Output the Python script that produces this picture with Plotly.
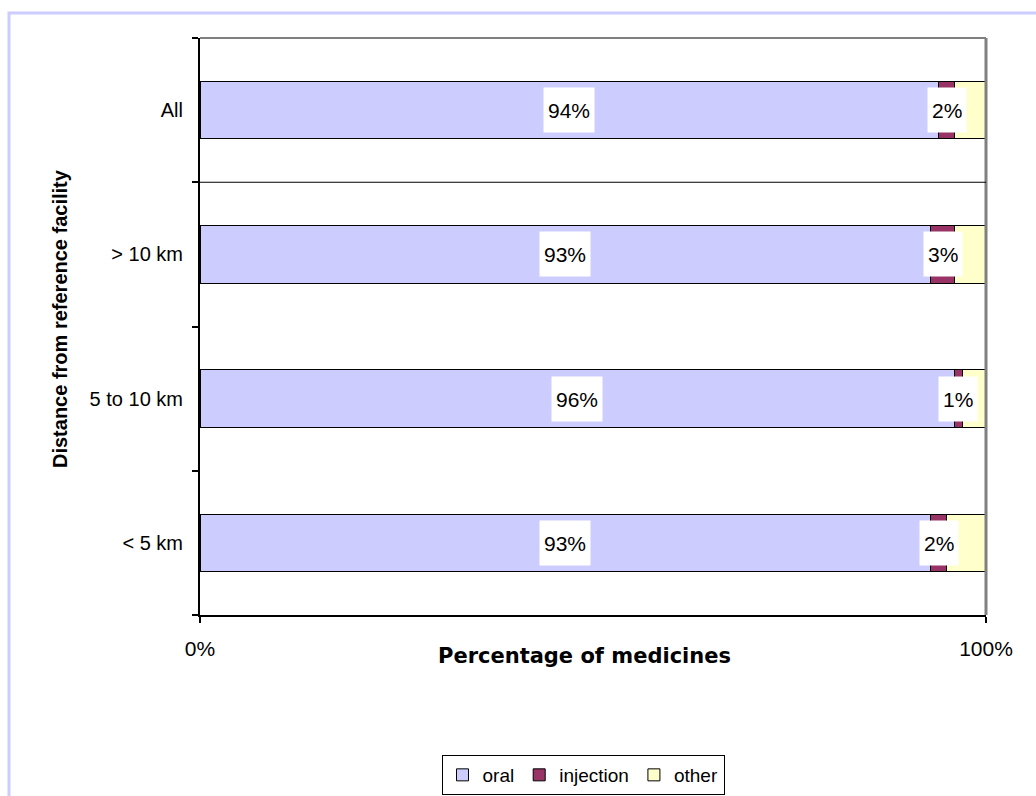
import plotly.graph_objects as go

# Share of medicines by route of administration, per distance band
categories = ["< 5 km", "5 to 10 km", "> 10 km", "All"]
oral = [93, 96, 93, 94]
injection = [2, 1, 3, 2]
other = [5, 3, 4, 4]

x_ticks = [0, 100]
x_tick_labels = ["0%", "100%"]

FONT = "Arial, Liberation Sans, sans-serif"

fig = go.Figure()
series = [
    ("oral", oral, "#CCCCFF"),
    ("injection", injection, "#993366"),
    ("other", other, "#FFFFCC"),
]
for name, vals, color in series:
    fig.add_trace(go.Bar(
        y=categories, x=vals, name=name, orientation="h",
        marker=dict(color=color, line=dict(color="black", width=1)),
    ))

# value boxes on the oral and injection segments
annotations = []
for cat, o, inj in zip(categories, oral, injection):
    annotations.append(dict(
        x=o / 2, y=cat, xref="x", yref="y", text=f"{o}%", showarrow=False,
        bgcolor="white", borderpad=4, height=36,
        font=dict(family=FONT, size=21, color="black"),
    ))
    annotations.append(dict(
        x=o + inj / 2, y=cat, xref="x", yref="y", text=f"{inj}%", showarrow=False,
        bgcolor="white", borderpad=4, height=36,
        font=dict(family=FONT, size=21, color="black"),
    ))

# axis titles
annotations.append(dict(
    x=(584 - 200) / 786, y=(615 - 656) / 577, xref="paper", yref="paper",
    xanchor="center", yanchor="middle",
    text="<b>Percentage of medicines</b>", showarrow=False,
    font=dict(family="DejaVu Sans, sans-serif", size=21, color="black"),
))
annotations.append(dict(
    x=(60 - 200) / 786, y=(615 - 319) / 577, xref="paper", yref="paper",
    xanchor="center", yanchor="middle",
    text="<b>Distance from reference facility</b>", showarrow=False, textangle=-90,
    font=dict(family=FONT, size=20, color="black"),
))

shapes = [
    # outer chart frame
    dict(type="rect", xref="paper", yref="paper",
         x0=(9 - 200) / 786, x1=(1060 - 200) / 786,
         y0=(615 - 820) / 577, y1=(615 - 13) / 577,
         line=dict(color="#CCCCFF", width=3), layer="below"),
    # plot area top and right edges
    dict(type="line", xref="paper", yref="paper", x0=0, x1=1, y0=1, y1=1,
         line=dict(color="#808080", width=2)),
    dict(type="line", xref="paper", yref="paper", x0=1, x1=1, y0=0, y1=1,
         line=dict(color="#808080", width=3)),
    # separator between the overall row and the distance bands
    dict(type="line", xref="x", yref="y", x0=0, x1=100, y0=2.5, y1=2.5,
         line=dict(color="black", width=1)),
]

fig.update_layout(
    width=1036, height=796,
    margin=dict(l=200, r=50, t=38, b=181),
    barmode="stack", bargap=0.6,
    plot_bgcolor="white", paper_bgcolor="white",
    font=dict(family=FONT, size=21, color="black"),
    showlegend=True,
    legend=dict(
        orientation="h", xref="container", yref="container",
        x=583 / 1036, xanchor="center",
        y=(796 - 755) / 796, yanchor="top",
        bordercolor="black", borderwidth=1, bgcolor="white",
        font=dict(family=FONT, size=19, color="black"),
        traceorder="normal", itemwidth=30,
    ),
    annotations=annotations,
    shapes=shapes,
)
fig.update_xaxes(
    range=[0, 100], tickvals=x_ticks, ticktext=x_tick_labels,
    showgrid=False, zeroline=False, showline=True, linecolor="black", linewidth=2,
    ticks="outside", ticklen=6, tickcolor="black", tickwidth=2,
    ticklabelstandoff=8, tickfont=dict(size=21),
)
fig.update_yaxes(
    categoryorder="array", categoryarray=categories,
    showgrid=False, showline=True, linecolor="black", linewidth=2,
    ticks="outside", ticklen=6, tickcolor="black", tickwidth=2,
    tickson="boundaries", ticklabelstandoff=11, tickfont=dict(size=20),
)

fig.write_html("out.html")
